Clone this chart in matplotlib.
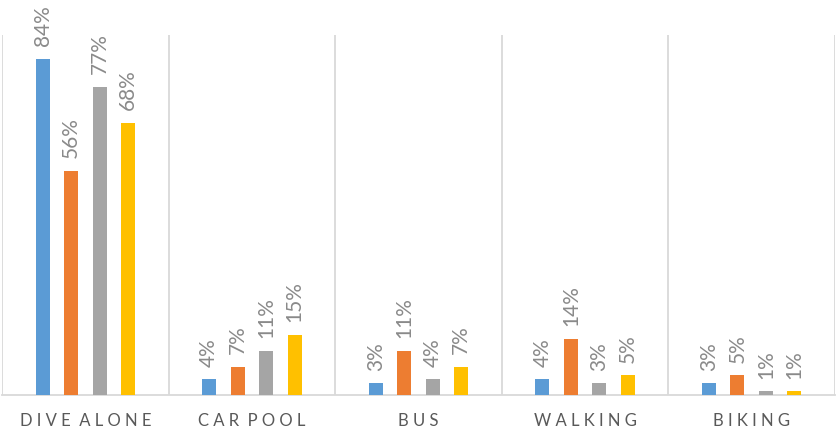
import numpy as np
import matplotlib
matplotlib.use('Agg')
import matplotlib.pyplot as plt

plt.rcParams['font.family'] = ['Lato', 'DejaVu Sans']

categories = ['DIVE ALONE', 'CAR POOL', 'BUS', 'WALKING', 'BIKING']
series_1 = [84, 4, 3, 4, 3]
series_2 = [56, 7, 11, 14, 5]
series_3 = [77, 11, 4, 3, 1]
series_4 = [68, 15, 7, 5, 1]
series = [series_1, series_2, series_3, series_4]
colors = ['#5B9BD5', '#ED7D31', '#A5A5A5', '#FFC000']


def spaced(label):
    # fake the letter spacing of the original axis labels
    return '  '.join(' '.join(word) for word in label.split())


fig = plt.figure(figsize=(8.4, 4.36), dpi=100)
ax = fig.add_axes([2 / 840, 41 / 436, 833 / 840, 360 / 436])

x = np.arange(len(categories))
slot = 0.171
width = 0.084

for i, (vals, c) in enumerate(zip(series, colors)):
    pos = x + (i - 1.5) * slot
    bars = ax.bar(pos, vals, width=width, color=c, zorder=3)
    for b, v in zip(bars, vals):
        ax.annotate('{}%'.format(v), xy=(b.get_x() + b.get_width() / 2, v),
                    xytext=(0, 9), textcoords='offset points',
                    rotation=90, ha='center', va='bottom',
                    fontsize=15, color='#8A8A8A', annotation_clip=False)

# separators between categories
for sep in np.arange(-0.5, len(categories), 1.0):
    ax.axvline(sep, color='#D9D9D9', linewidth=1.3, zorder=1)

ax.set_xlim(-0.5, len(categories) - 0.5)
ax.set_ylim(0, 90)
ax.set_yticks([])
ax.set_xticks(x)
ax.set_xticklabels([spaced(c) for c in categories], fontsize=12, color='#595959')
ax.tick_params(axis='x', length=0, pad=13)

for s in ['top', 'left', 'right']:
    ax.spines[s].set_visible(False)
ax.spines['bottom'].set_color('#D9D9D9')
ax.spines['bottom'].set_linewidth(1.3)

fig.savefig('out.png', dpi=100)
